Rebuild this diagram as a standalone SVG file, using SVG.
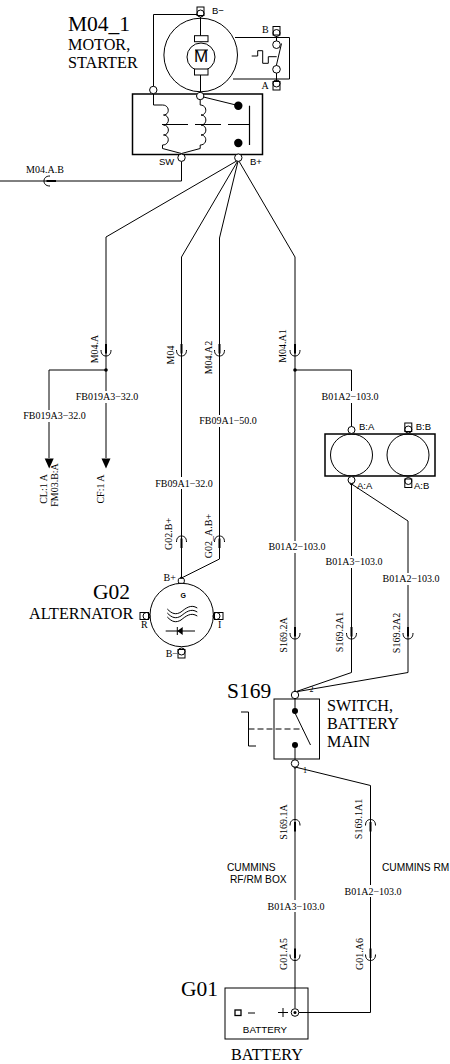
<svg xmlns="http://www.w3.org/2000/svg" xmlns:xlink="http://www.w3.org/1999/xlink" width="450" height="1064" viewBox="0 0 450 1064">
<style>
.l{fill:none;stroke:#000;stroke-width:1}
.b{fill:none;stroke:#000;stroke-width:2}
.p{fill:#fff;stroke:#000;stroke-width:1}
.d{fill:#000;stroke:none}
text{fill:#000}
.s{font-family:"Liberation Serif",serif;font-size:10px}
.m{font-family:"Liberation Serif",serif;font-size:16.2px}
.h{font-family:"Liberation Serif",serif;font-size:21.5px}
.a{font-family:"Liberation Sans",sans-serif;font-size:9.5px}
.k{font-family:"Liberation Sans",sans-serif;font-size:10.200px}
.c{text-anchor:middle}
</style>
<defs>
<g id="u"><path class="l" d="M-5,-3.5C-5,1 -2.500,2.500 0,2.500C2.500,2.500 5,1 5,-3.500"/><path class="b" d="M0,-9.500V0"/></g>
<g id="t"><rect class="p" x="-3.500" y="-4.500" width="7" height="8.500"/><circle class="l" cx="0" cy="2" r="3.500"/></g>
</defs>
<g id="connectors">
<path class="l" d="M197,14.500H153.500V105H162.500"/>
<path class="l" d="M181.500,161V181H0"/>
<path class="l" d="M238.300,160L106,237V370M106,370V458M106,370H49V458"/>
<path class="l" d="M238.300,160L181.500,257V578"/>
<path class="l" d="M238.300,160L219.500,238V559L181.500,578"/>
<path class="l" d="M238.300,160L295,257V692"/>
<path class="l" d="M295,370H351.500V427"/>
<path class="l" d="M351.500,484V672.500L295,692"/>
<path class="l" d="M351.500,484L408,521V672.500L295,692"/>
<path class="l" d="M295,767V1008M295,767L370.500,785.500V1012.500H299"/>
<circle class="d" cx="106" cy="370" r="1.800"/>
<circle class="d" cx="295" cy="370" r="1.800"/>
<circle class="d" cx="351.500" cy="483.500" r="1.800"/>
<circle class="d" cx="238.300" cy="160" r="1.500"/>
<circle class="d" cx="295" cy="692" r="1.500"/>
<circle class="d" cx="295" cy="767" r="1.500"/>
<circle class="d" cx="181.500" cy="578" r="1.500"/>
<path d="M44.700,458.500H53.700L49.200,468.500Z"/>
<path d="M101.500,458.500H110.500L106,468.500Z"/>
<use xlink:href="#u" href="#u" transform="translate(46.500,181) rotate(90)"/>
<use xlink:href="#u" href="#u" transform="translate(106,353.500)"/>
<use xlink:href="#u" href="#u" transform="translate(181.500,353.500)"/>
<use xlink:href="#u" href="#u" transform="translate(219.500,353.500)"/>
<use xlink:href="#u" href="#u" transform="translate(295,353.500)"/>
<use xlink:href="#u" href="#u" transform="translate(181.500,538.500) scale(1,-1)"/>
<use xlink:href="#u" href="#u" transform="translate(219.500,538.500) scale(1,-1)"/>
<use xlink:href="#u" href="#u" transform="translate(295,636.500)"/>
<use xlink:href="#u" href="#u" transform="translate(351.500,636.500)"/>
<use xlink:href="#u" href="#u" transform="translate(408,636.500)"/>
<use xlink:href="#u" href="#u" transform="translate(295,822) scale(1,-1)"/>
<use xlink:href="#u" href="#u" transform="translate(370.500,822) scale(1,-1)"/>
<use xlink:href="#u" href="#u" transform="translate(295,958)"/>
<use xlink:href="#u" href="#u" transform="translate(370.500,958)"/>
<g fill="#fff">
<rect x="75" y="391" width="64" height="12"/>
<rect x="22" y="410" width="64" height="12"/>
<rect x="198" y="415" width="60" height="12"/>
<rect x="155" y="477" width="60" height="12"/>
<rect x="321" y="391" width="60" height="12"/>
<rect x="268" y="541" width="60" height="12"/>
<rect x="325" y="556" width="60" height="12"/>
<rect x="381" y="573" width="60" height="12"/>
<rect x="267" y="900" width="60" height="12"/>
<rect x="344" y="885" width="60" height="12"/>
</g>
<g class="s c">
<text x="107" y="400">FB019A3−32.0</text>
<text x="54.500" y="419">FB019A3−32.0</text>
<text x="228" y="424">FB09A1−50.0</text>
<text x="184" y="487">FB09A1−32.0</text>
<text x="350" y="400">B01A2−103.0</text>
<text x="297" y="550">B01A2−103.0</text>
<text x="354" y="565">B01A3−103.0</text>
<text x="411" y="582">B01A2−103.0</text>
<text x="296" y="910">B01A3−103.0</text>
<text x="373" y="895">B01A2−103.0</text>
<text x="45" y="173">M04.A.B</text>
<text transform="translate(98,349) rotate(-90)">M04.A</text>
<text transform="translate(174,355) rotate(-90)">M04</text>
<text transform="translate(211.500,357.500) rotate(-90)">M04.A2</text>
<text transform="translate(286,346) rotate(-90)">M04.A1</text>
<text transform="translate(172,534) rotate(-90)">G02.B+</text>
<text transform="translate(211.500,536) rotate(-90)">G02_A.B+</text>
<text transform="translate(286.500,635) rotate(-90)">S169.2A</text>
<text transform="translate(343,632) rotate(-90)">S169.2A1</text>
<text transform="translate(400,633) rotate(-90)">S169.2A2</text>
<text transform="translate(286.500,822) rotate(-90)">S169.1A</text>
<text transform="translate(362,819) rotate(-90)">S169.1A1</text>
<text transform="translate(286.500,954) rotate(-90)">G01.A5</text>
<text transform="translate(363,954) rotate(-90)">G01.A6</text>
<text transform="translate(47,489) rotate(-90)">CL:1 A</text>
<text transform="translate(58,485) rotate(-90)">FM03.B:A</text>
<text transform="translate(104,489) rotate(-90)">CF:1 A</text>
</g>
<text class="k" x="227" y="870.500">CUMMINS</text>
<text class="k" x="230" y="882.500">RF/RM BOX</text>
<text class="k" x="382" y="870.500">CUMMINS RM</text>
</g>
<g id="M04_1">
<text class="h" x="68" y="31">M04_1</text>
<text class="m" x="68" y="50">MOTOR,</text>
<text class="m" x="68" y="68">STARTER</text>
<circle class="l" cx="200.700" cy="55" r="36.800"/>
<circle class="l" cx="201" cy="57" r="14"/>
<text x="201" y="62" class="c" font-family="Liberation Sans,sans-serif" font-size="17">M</text>
<path class="l" d="M195,50H208"/>
<rect class="p" x="194.500" y="35.700" width="13.500" height="6"/>
<rect class="p" x="194.500" y="69" width="13.500" height="6"/>
<path class="l" d="M200.500,17V35.700M200.500,75V93"/>
<use xlink:href="#t" href="#t" transform="translate(200.500,11.500)"/>
<path class="l" d="M235,37.500H289.500V79H233"/>
<path class="l" d="M276.500,36V41M276.500,73V81M281.500,43.500L276,67"/>
<circle class="p" cx="276.500" cy="44.700" r="3.800"/>
<circle class="p" cx="276.500" cy="69.300" r="3.800"/>
<use xlink:href="#t" href="#t" transform="translate(276.500,31)"/>
<use xlink:href="#t" href="#t" transform="translate(276.500,85.500) scale(1,-1)"/>
<path class="l" d="M251.700,56H257.700V50.700H262.700V63.300H268.300V56.700H276.700"/>
<text class="s" x="262" y="32.500">B</text>
<text class="s" x="261.500" y="88.500">A</text>
<text class="a" x="212" y="13.500">B−</text>
<rect x="132.500" y="94" width="130" height="60.500" fill="none" stroke="#000" stroke-width="1.500"/>
<circle class="p" cx="153.300" cy="90" r="3.700"/>
<circle class="p" cx="200.200" cy="96" r="3.700"/>
<path class="l" d="M203.500,97L238,105.500"/>
<circle class="d" cx="238.300" cy="105.700" r="4.200"/>
<circle class="d" cx="238.300" cy="143" r="4.200"/>
<path class="b" d="M249.500,105.700V145" style="stroke-width:1.200"/>
<path class="l" d="M162,124.500H249.500" stroke-dasharray="26 7"/>
<path class="l" d="M162.500,105C170,105 170,115 163.500,115C170,115 170,125 163.500,125C170,125 170,135 163.500,135C170,135 170,145 162.500,145V148.500L181.500,153.500M200.200,100V105C207.500,105 207.500,115 201,115C207.500,115 207.500,125 201,125C207.500,125 207.500,135 201,135C207.500,135 207.500,145 200.200,145V148.500L181.500,153.500"/>
<circle class="p" cx="181.500" cy="157.700" r="3.700"/>
<circle class="p" cx="238.300" cy="157.700" r="3.700"/>
<text class="a" x="159" y="165">SW</text>
<text class="a" x="250" y="165">B+</text>
</g>
<g id="G02">
<text class="h" x="93" y="599">G02</text>
<text class="m" x="29" y="619">ALTERNATOR</text>
<circle class="l" cx="181.700" cy="615" r="31.700"/>
<rect class="p" x="178.300" y="578.300" width="6" height="5" rx="1.500"/>
<text x="183.300" y="598" class="c" font-family="Liberation Sans,sans-serif" font-size="7" font-weight="bold">G</text>
<path class="l" d="M167.300,609C172,614 176,615 181,612C186,608 191,604 197.300,608M167.300,613C172,618 176,619 181,616C186,612 191,608 197.300,612M167.300,617C172,622 176,623 181,620C186,616 191,612 197.300,616"/>
<path class="l" d="M165.700,631H195M177.300,627V635"/>
<path d="M177.300,631L182.700,627V635Z"/>
<use xlink:href="#t" href="#t" transform="translate(144.500,616) rotate(-90)"/>
<use xlink:href="#t" href="#t" transform="translate(218.500,616) rotate(90)"/>
<use xlink:href="#t" href="#t" transform="translate(181.500,653.500) scale(1,-1)"/>
<text class="s" x="163.500" y="581">B+</text>
<text class="s" x="141" y="628">R</text>
<text class="s" x="218" y="628">I</text>
<text class="s" x="165.700" y="656.700">B−</text>
</g>
<g id="B01">
<rect x="325" y="434" width="110" height="42" fill="none" stroke="#000" stroke-width="1.500"/>
<circle class="l" cx="351.500" cy="455" r="21"/>
<circle class="l" cx="408" cy="455" r="21"/>
<circle class="p" cx="351.500" cy="430" r="3.500"/>
<circle class="p" cx="351.500" cy="480" r="3.500"/>
<use xlink:href="#t" href="#t" transform="translate(408.300,427.500)"/>
<use xlink:href="#t" href="#t" transform="translate(408.300,483) scale(1,-1)"/>
<text class="a" x="359" y="430">B:A</text>
<text class="a" x="415.700" y="430">B:B</text>
<text class="a" x="357" y="489">A:A</text>
<text class="a" x="414" y="489">A:B</text>
</g>
<g id="S169">
<text class="h" x="227" y="698">S169</text>
<text class="m" x="327" y="711">SWITCH,</text>
<text class="m" x="327" y="729">BATTERY</text>
<text class="m" x="327" y="747">MAIN</text>
<rect class="l" x="274" y="699" width="45.500" height="60"/>
<path class="l" d="M295,699V711M295,745V767"/>
<circle class="p" cx="295" cy="695" r="3.700"/>
<circle class="p" cx="295" cy="763.500" r="3.700"/>
<circle class="d" cx="295" cy="711" r="3"/>
<circle class="d" cx="295" cy="745" r="3"/>
<path class="l" d="M295,713L310.500,745"/>
<path class="l" d="M241,712H248.500V746H256"/>
<path class="l" d="M248.500,729H303" stroke-dasharray="6 3"/>
<text x="309.500" y="692" font-family="Liberation Serif,serif" font-size="8">2</text>
<text x="303" y="773" font-family="Liberation Serif,serif" font-size="8">1</text>
</g>
<g id="G01">
<text class="h" x="181" y="996">G01</text>
<rect class="l" x="225" y="988" width="83" height="51"/>
<rect x="235" y="1010" width="6" height="5.500" fill="none" stroke="#000" stroke-width="1.300"/>
<path class="l" d="M248,1013H255M278,1012.500H288M283,1008V1017"/>
<circle class="p" cx="295" cy="1012.500" r="3.800"/>
<circle class="d" cx="295" cy="1012.500" r="1.500"/>
<text class="a c" x="265" y="1033" style="font-size:9.800px">BATTERY</text>
<text class="m" x="231" y="1060">BATTERY</text>
</g>
</svg>
